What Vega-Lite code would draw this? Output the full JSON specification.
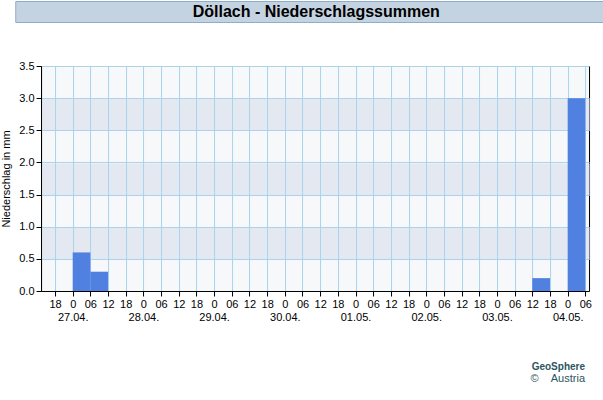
{
  "$schema": "https://vega.github.io/schema/vega-lite/v6.json",
  "padding": 0,
  "spacing": 36,
  "center": true,
  "config": {
    "font": "Liberation Sans",
    "axis": {
      "labelFont": "Liberation Sans",
      "labelFontSize": 11,
      "labelColor": "#000000",
      "titleFont": "Liberation Sans",
      "titleFontSize": 11,
      "titleFontWeight": "normal",
      "titleColor": "#000000",
      "domainColor": "#000000",
      "tickColor": "#000000"
    },
    "title": {"font": "Liberation Sans", "subtitleFont": "Liberation Sans"}
  },
  "datasets": {
    "precip": [
      {"start": "2024-04-27T00:00:00Z", "end": "2024-04-27T06:00:00Z", "mm": 0.6},
      {"start": "2024-04-27T06:00:00Z", "end": "2024-04-27T12:00:00Z", "mm": 0.3},
      {"start": "2024-05-03T12:00:00Z", "end": "2024-05-03T18:00:00Z", "mm": 0.2},
      {"start": "2024-05-04T00:00:00Z", "end": "2024-05-04T06:00:00Z", "mm": 3.0}
    ]
  },
  "vconcat": [
    {
      "width": 602,
      "height": 21,
      "data": {"values": [{"t": "Döllach - Niederschlagssummen"}]},
      "view": {"fill": "#c4d3e1", "stroke": "#8fadc8", "strokeWidth": 1},
      "mark": {"type": "text", "fontSize": 16, "fontWeight": "bold", "font": "Liberation Sans", "color": "#000000", "baseline": "middle", "align": "center"},
      "encoding": {"text": {"field": "t", "type": "nominal"}}
    },
    {
      "width": 548,
      "height": 225,
      "data": {"name": "precip"},
      "view": {"fill": "#f6f8fa", "stroke": "#000000", "strokeWidth": 1},
      "title": {
        "text": "GeoSphere",
        "subtitle": "©\u00a0\u00a0\u00a0\u00a0Austria\u00a0\u00a0\u00a0\u00a0\u00a0\u00a0",
        "orient": "bottom",
        "anchor": "end",
        "frame": "group",
        "offset": 40,
        "dx": -4,
        "fontSize": 10,
        "fontWeight": "bold",
        "color": "#2b5560",
        "subtitleFontSize": 11,
        "subtitleColor": "#2b5560",
        "subtitlePadding": 1
      },
      "layer": [
        {
          "mark": {"type": "rect", "opacity": 0},
          "encoding": {
            "x": {
              "field": "start",
              "type": "temporal",
              "scale": {"type": "utc", "nice": false, "domain": [
                {"year": 2024, "month": 4, "date": 26, "hours": 13, "minutes": 15, "utc": true},
                {"year": 2024, "month": 5, "date": 4, "hours": 7, "minutes": 15, "utc": true}
              ]},
              "axis": {
                "orient": "top",
                "labels": false,
                "domain": false,
                "grid": false,
                "ticks": true,
                "tickSize": -225,
                "tickColor": "#a9d3ee",
                "tickWidth": 1,
                "title": null,
                "values": [1714154400000, 1714176000000, 1714197600000, 1714219200000, 1714240800000, 1714262400000, 1714284000000, 1714305600000, 1714327200000, 1714348800000, 1714370400000, 1714392000000, 1714413600000, 1714435200000, 1714456800000, 1714478400000, 1714500000000, 1714521600000, 1714543200000, 1714564800000, 1714586400000, 1714608000000, 1714629600000, 1714651200000, 1714672800000, 1714694400000, 1714716000000, 1714737600000, 1714759200000, 1714780800000, 1714802400000]
              }
            },
            "x2": {"field": "end"},
            "y": {
              "field": "mm",
              "type": "quantitative",
              "scale": {"domain": [0, 3.5], "nice": false, "zero": true},
              "axis": {
                "orient": "right",
                "values": [0.75, 1.75, 2.75],
                "grid": true,
                "gridColor": "#e4e9f1",
                "gridWidth": 32.142857,
                "gridOpacity": 1,
                "labels": false,
                "ticks": false,
                "domain": false,
                "title": null
              }
            },
            "y2": {"datum": 0}
          }
        },
        {
          "mark": {"type": "rect", "color": "#5080e0"},
          "encoding": {
            "x": {
              "field": "start",
              "type": "temporal",
              "axis": {
                "orient": "bottom",
                "grid": false,
                "values": [1714154400000, 1714176000000, 1714197600000, 1714219200000, 1714240800000, 1714262400000, 1714284000000, 1714305600000, 1714327200000, 1714348800000, 1714370400000, 1714392000000, 1714413600000, 1714435200000, 1714456800000, 1714478400000, 1714500000000, 1714521600000, 1714543200000, 1714564800000, 1714586400000, 1714608000000, 1714629600000, 1714651200000, 1714672800000, 1714694400000, 1714716000000, 1714737600000, 1714759200000, 1714780800000, 1714802400000],
                "labelExpr": "utchours(datum.value) == 0 ? ['0', utcFormat(datum.value, '%d.%m.')] : utcFormat(datum.value, '%H')",
                "labelAngle": 0,
                "labelAlign": "center",
                "labelBaseline": "top",
                "labelLineHeight": 13,
                "labelFlush": false,
                "labelOverlap": false,
                "tickSize": 5,
                "labelPadding": 2,
                "title": null
              }
            },
            "x2": {"field": "end"},
            "y": {
              "field": "mm",
              "type": "quantitative",
              "axis": {
                "orient": "left",
                "title": "Niederschlag in mm",
                "values": [0, 0.5, 1, 1.5, 2, 2.5, 3, 3.5],
                "format": ".1f",
                "grid": true,
                "gridColor": "#a9d3ee",
                "gridOpacity": 1,
                "tickSize": 5,
                "labelPadding": 2,
                "titlePadding": 7
              }
            },
            "y2": {"datum": 0}
          }
        }
      ],
      "resolve": {"axis": {"x": "independent", "y": "independent"}}
    }
  ]
}
